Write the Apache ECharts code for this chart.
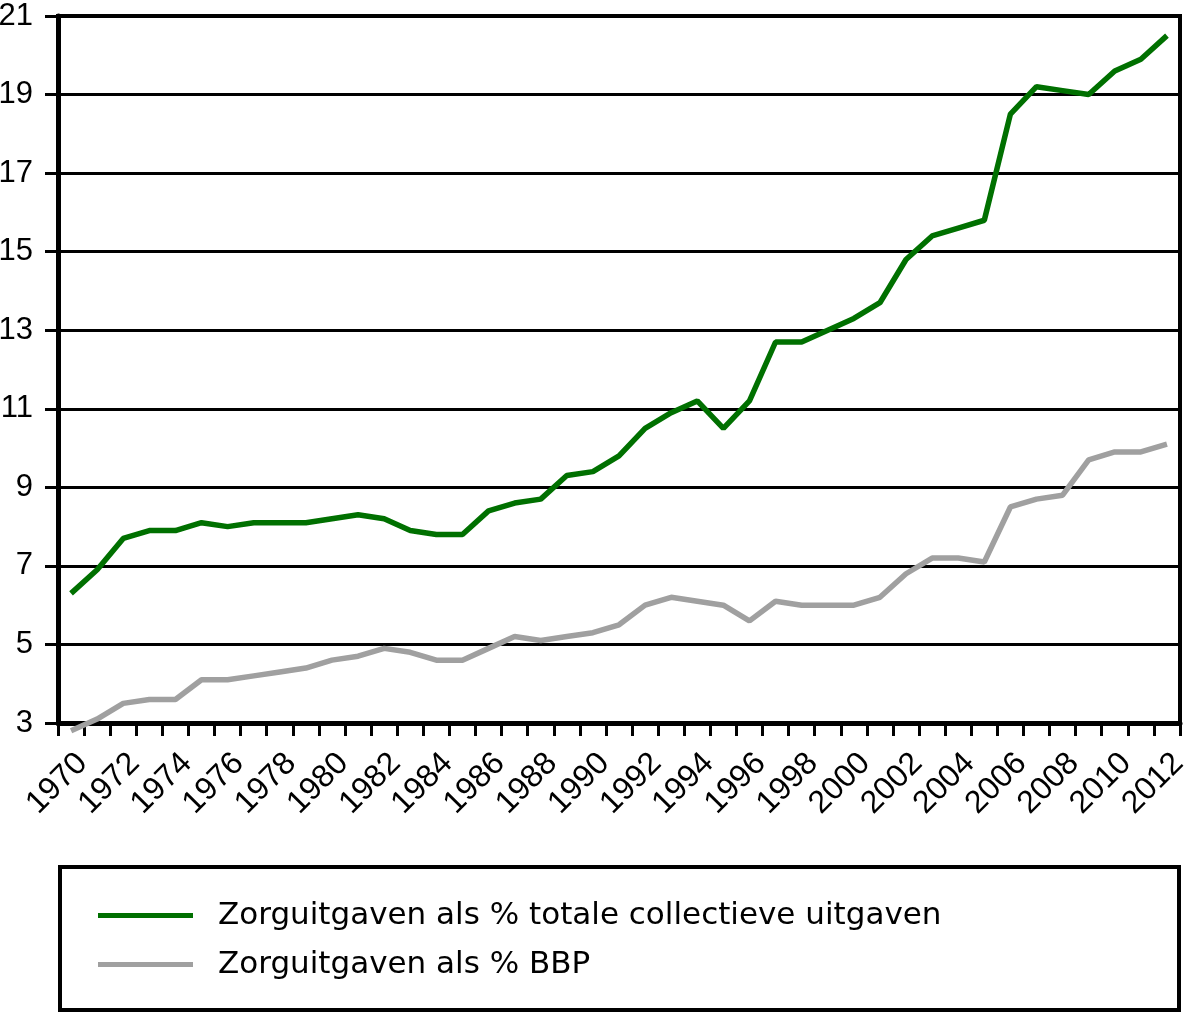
<!DOCTYPE html>
<html>
<head>
<meta charset="utf-8">
<script src="https://cdn.jsdelivr.net/npm/echarts@6/dist/echarts.min.js"></script>
<style>
html,body{margin:0;padding:0;background:#fff;}
#chart{width:1191px;height:1013px;}
</style>
</head>
<body>
<div id="chart"></div>
<script>
const years = ['1970','1971','1972','1973','1974','1975','1976','1977','1978','1979',
  '1980','1981','1982','1983','1984','1985','1986','1987','1988','1989',
  '1990','1991','1992','1993','1994','1995','1996','1997','1998','1999',
  '2000','2001','2002','2003','2004','2005','2006','2007','2008','2009',
  '2010','2011','2012'];
const zorgCollectief = [6.3,6.9,7.7,7.9,7.9,8.1,8.0,8.1,8.1,8.1,
  8.2,8.3,8.2,7.9,7.8,7.8,8.4,8.6,8.7,9.3,
  9.4,9.8,10.5,10.9,11.2,10.5,11.2,12.7,12.7,13.0,
  13.3,13.7,14.8,15.4,15.6,15.8,18.5,19.2,19.1,19.0,
  19.6,19.9,20.5];
const zorgBBP = [2.8,3.1,3.5,3.6,3.6,4.1,4.1,4.2,4.3,4.4,
  4.6,4.7,4.9,4.8,4.6,4.6,4.9,5.2,5.1,5.2,
  5.3,5.5,6.0,6.2,6.1,6.0,5.6,6.1,6.0,6.0,
  6.0,6.2,6.8,7.2,7.2,7.1,8.5,8.7,8.8,9.7,
  9.9,9.9,10.1];
const seriesNames = ['Zorguitgaven als % totale collectieve uitgaven','Zorguitgaven als % BBP'];
const yMin = 3, yMax = 21, yStep = 2;

const AXFONT = 'Liberation Sans';
const LGFONT = 'DejaVu Sans';
const GREEN = '#007000', GREY = '#a0a0a0';
const chart = echarts.init(document.getElementById('chart'));
chart.setOption({
  animation: false,
  backgroundColor: '#fff',
  grid: {left: 58, right: 11, top: 16, bottom: 290, show: true, borderColor: '#000', borderWidth: 4,
         containLabel: false, outerBoundsMode: 'none'},
  xAxis: {
    type: 'category',
    data: years,
    boundaryGap: true,
    axisLine: {lineStyle: {color: '#000', width: 5}},
    axisTick: {show: true, interval: 0, length: 13, lineStyle: {color: '#000', width: 3}},
    axisLabel: {interval: 1, rotate: 45, fontSize: 32, fontFamily: AXFONT, color: '#000',
                margin: 24, verticalAlign: 'top'}
  },
  yAxis: {
    type: 'value',
    min: yMin, max: yMax, interval: yStep,
    axisLine: {show: true, lineStyle: {color: '#000', width: 5}},
    axisTick: {show: true, length: 13, lineStyle: {color: '#000', width: 3}},
    splitLine: {show: true, lineStyle: {color: '#000', width: 3}},
    axisLabel: {fontSize: 31, fontFamily: AXFONT, color: '#000', margin: 25}
  },
  legend: {
    orient: 'vertical',
    left: 93, top: 895,
    itemWidth: 95, itemHeight: 5, itemGap: 18,
    icon: 'rect',
    textStyle: {fontSize: 31, fontFamily: LGFONT, color: '#000', padding: [0, 0, 0, 20]},
    data: seriesNames
  },
  graphic: [{
    type: 'rect',
    shape: {x: 60, y: 867, width: 1119, height: 143},
    style: {fill: 'none', stroke: '#000', lineWidth: 4},
    z: 100
  }],
  series: [
    {name: seriesNames[0], type: 'line', data: zorgCollectief, symbol: 'none', clip: false,
     lineStyle: {color: GREEN, width: 5.5}, itemStyle: {color: GREEN}},
    {name: seriesNames[1], type: 'line', data: zorgBBP, symbol: 'none', clip: false,
     lineStyle: {color: GREY, width: 5.5}, itemStyle: {color: GREY}}
  ]
});
</script>
</body>
</html>
